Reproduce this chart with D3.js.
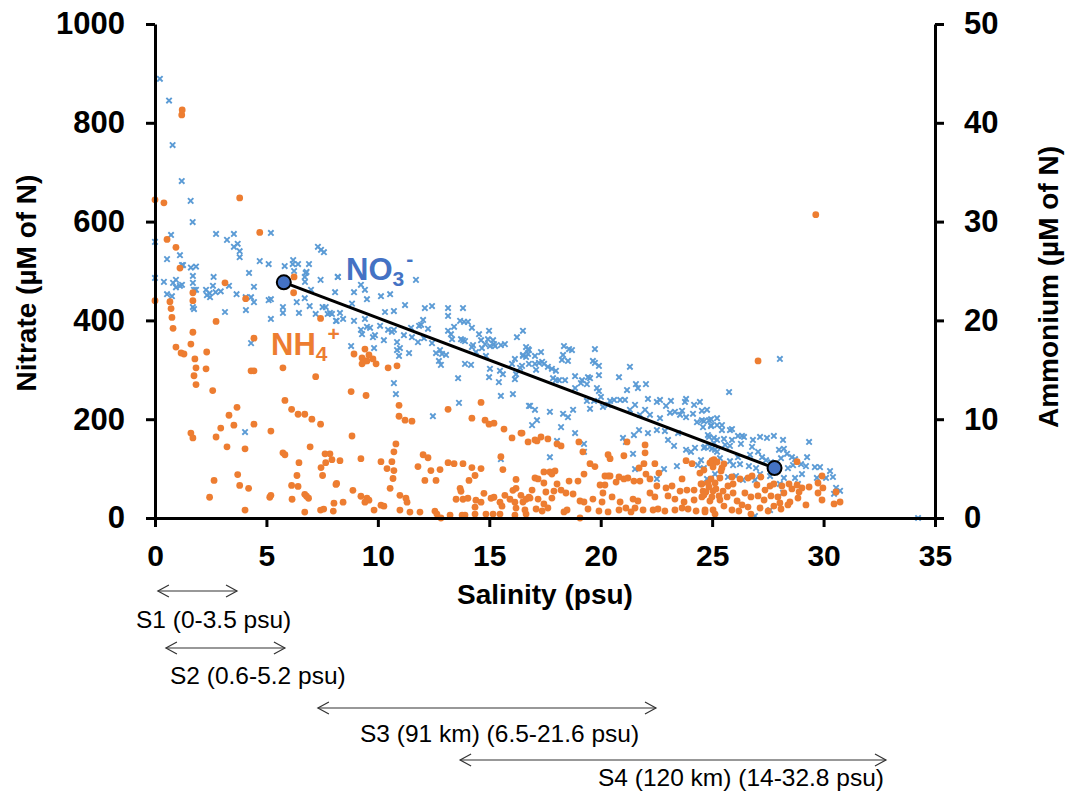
<!DOCTYPE html>
<html>
<head>
<meta charset="utf-8">
<script src="https://cdn.jsdelivr.net/npm/d3@7/dist/d3.min.js"></script>
<style>
body { margin: 0; background: #fff; }
text { font-family: "Liberation Sans", Arial, sans-serif; }
</style>
</head>
<body>
<div id="chart"></div>
<script>
// salinity (psu), nitrate (uM of N)
var nitrate = [
  [0.22,889],[0.63,845],[0.79,755],[1.2,682],[1.6,642],[1.69,599],[0.72,573],[0,559],[2.74,575],[3.54,575],
  [3.23,563],[3.54,549],[3.71,555],[3.8,540],[3.8,528],[5.2,577],[1.12,532],[0.54,524],[7.31,549],[7.45,543],
  [7.58,538],[4.7,520],[6.2,522],
  [1.21,512],[1.26,512],[1.61,507],[1.84,509],[0,486],[0.4,478],[0.94,482],[0.81,476],[0.94,467],[1.21,472],
  [1.12,470],[1.7,490],[1.7,476],[1.84,462],[1.75,462],[0.54,453],[0.76,449],[1.7,427],[1.75,423],[2.29,462],
  [2.45,455],[2.33,451],[2.47,447],[2.6,470],[2.72,457],[2.95,459],[2.63,488],[3.32,470],[3.66,453],[4.07,447],
  [4.31,447],[4.44,437],[4.22,496],[4.44,468],[5.1,514],[3.14,417],[4.08,421],[4.31,354],[4.04,174],[5.1,441],
  [5.2,443],[5.2,403],[5.74,427],[5.74,415],[5.82,510],[6.18,514],[6.42,514],[6.24,500],[6.91,514],[6.76,496],
  [6.8,498],[6.72,488],[6.73,478],[6.72,445],[6.36,437],[6.46,415],[6.94,429],[7.43,482],[7.52,427],[7.66,427],
  [7.21,413],[7.75,413],[7.85,415],[7.94,413],[8.15,399],[8.2,488],[7.0,462],
  [8.08,457],[8.93,457],[9.42,462],[9.51,443],[9.24,472],[10.14,449],[10.55,453],[11.71,482],[8.21,488],[8.3,415],
  [8.44,403],[8.12,399],[8.93,399],[8.84,434],[9.42,403],[9.24,381],[9.29,372],[9.51,387],[9.65,385],[9.87,370],
  [9.78,366],[10.1,389],[10.32,417],[10.46,381],[10.27,360],[10.72,419],[10.63,377],[10.72,381],[11.22,431],[11.17,370],
  [8.8,348],[9.83,344],[10.86,356],[10.99,344],[10.95,328],[11.4,334],[10.86,340],[10.72,273],[10.81,251],[11.49,385],
  [11.53,366],[11.8,356],[11.85,389],[12.03,401],[11.94,391],[12.07,364],[12.11,425],[12.43,429],[12.25,383],[12.43,354],
  [12.61,334],[12.79,340],[12.83,310],[13.06,330],[12.74,318],[12.88,332],[13.15,425],[13.15,409],[13.82,425],[13.15,379],
  [13.42,387],[13.28,372],[13.33,362],[13.69,399],[13.87,397],[14.04,397],[13.6,283],[13.64,233],[13.91,312],[14.18,310],
  [13.73,362],[13.82,360],[13.91,358],[14.22,385],[14.27,350],[14.54,372],[14.22,346],[14.4,336],[14.63,360],[14.67,344],
  [14.94,362],[14.99,379],[14.81,352],[15.03,348],[15.17,360],[15.21,352],[15.26,348],[15.52,350],[15.7,352],[14.85,328],
  [14.99,285],[15.03,302],[15.48,298],[15.43,275],[15.61,291],[16.15,322],[16.24,366],[16.51,379],[16.06,251],[15.52,247],
  [16.2,291],[16.15,281],[16.02,312],[16.47,308],[16.65,326],[16.51,330],[16.74,342],[12.47,206],[16.78,227],[15.52,119],
  [16.65,346],[16.78,340],[17.05,328],[16.51,328],[16.74,332],[17.32,336],[17.23,314],[17.37,316],[17.46,312],[17.05,312],
  [16.78,312],[17.1,300],[17.63,306],[17.81,302],[17.99,298],[18.26,320],[18.31,330],[18.35,348],[18.58,342],[18.71,340],
  [18.53,318],[17.99,279],[17.86,283],[18.13,279],[18.4,279],[18.85,287],[19.16,279],[19.43,285],[19.52,283],[19.65,318],
  [19.74,314],[19.74,342],[19.92,289],[18.85,263],[19.11,273],[19.38,271],[19.92,257],[19.83,263],[16.83,227],[17.05,219],
  [17.14,198],[16.92,188],[17.72,215],[18.22,184],[18.31,211],[18.53,204],[18.76,219],[18.85,172],[18.04,156],[17.72,123],
  [19.38,237],[19.52,221],[19.7,237],[20.01,245],[20.1,225],[20.33,229],[20.42,237],[20.6,239],[20.82,285],[20.87,239],
  [21.31,306],[21.58,271],[21.67,263],[22.03,271],[21.18,259],[21.09,239],[21.31,219],[21.54,229],[21.76,209],[21.99,219],
  [22.21,209],[22.12,241],[22.52,235],[22.93,227],[22.66,202],[23.11,213],[23.33,215],[23.56,209],[23.65,217],[23.78,235],
  [23.83,204],[24.14,211],[24.32,194],[24.63,196],[24.86,198],[24.95,186],[25.22,188],[19.25,150],[19.25,134],[21.0,162],
  [21.13,154],[21.45,130],[21.49,168],[21.72,178],[22.12,172],[22.52,178],[22.88,176],[23.02,158],[23.29,146],[23.47,172],
  [23.42,105],[23.83,138],[24.05,134],[24.23,142],[24.36,107],[24.59,99],[24.68,144],[24.86,164],[24.99,140],[25.08,152],
  [25.22,134],[22.84,99],[22.52,79],[21.54,99],[16.38,304],[22.66,239],[23.15,237],[23.83,241],[24.19,229],[24.45,235],
  [24.77,219],[19.92,308],
  [24.54,217],[24.54,198],[24.95,200],[25.22,202],[24.59,184],[25.44,188],[25.44,178],[25.8,178],[25.89,180],[24.95,188],
  [24.81,168],[25.08,162],[25.22,158],[25.53,160],[25.89,158],[26.16,166],[26.34,166],[26.43,164],[26.83,158],[27.15,164],
  [27.46,162],[27.77,166],[28.18,158],[29.35,154],[24.63,142],[24.9,144],[25.13,138],[25.58,148],[25.8,146],[26.29,150],
  [26.79,144],[27.06,134],[26.7,128],[26.16,123],[25.35,121],[24.5,117],[24.63,101],[25.13,113],[25.8,115],[25.94,107],
  [26.25,109],[26.65,105],[26.97,101],[27.24,123],[27.42,117],[27.64,113],[28.0,138],[28.22,140],[28.36,130],[28.09,121],
  [28.58,123],[28.72,119],[28.4,101],[28.63,107],[28.99,109],[29.26,123],[29.21,105],[29.61,103],[29.84,103],[30.29,95],
  [30.42,83],[30.56,61],[30.74,55],[30.47,49],[30.11,81],[29.7,81],[29.03,89],[28.72,81],[28.85,69],[28.22,81],
  [28.04,69],[27.6,85],[27.15,89],[26.92,77],[26.38,77],[26.07,85],[25.71,83],[25.13,89],[24.77,79],[28.18,51],
  [27.6,16],[26.92,4],[34.24,0],[28.04,322],[25.76,255]
];

// salinity (psu), ammonium (uM of N)
var ammonium = [
  [1.2,40.8],[1.22,41.3],[0,32.2],[0.4,31.9],[3.8,32.4],[4.7,28.9],[0.54,28.2],[0.94,27.4],
  [1.12,25.3],[0,22.0],[0.67,21.9],[0.72,21.2],[0.76,20.3],[0.81,19.2],[0.94,17.3],[1.7,22.8],[1.7,22.0],[1.7,18.8],
  [1.61,17.6],[1.17,16.7],[1.3,16.6],[1.79,16.1],[1.84,15.2],[1.75,14.4],[1.84,13.5],[2.32,16.8],[2.29,15.1],[2.59,12.9],
  [2.74,19.9],[3.14,23.8],[4.07,22.2],[4.44,18.2],[4.31,14.9],[4.44,14.9],[5.74,15.2],[6.24,24.4],[6.22,22.8],[7.43,20.2],
  [7.21,14.3],[5.83,11.9],[6.13,11.0],[6.42,10.5],[6.72,10.5],[7.04,10.0],[7.43,9.5],[3.68,11.2],[3.32,10.4],[3.54,9.4],
  [2.95,9.1],[2.74,8.2],[3.23,7.2],[1.61,8.6],[1.7,8.1],[4.44,9.5],[5.2,8.8],[4.04,7.0],[5.74,6.6],[5.83,6.4],
  [6.46,5.6],[6.96,7.2],[7.45,5.1],[7.63,6.5],[7.85,6.5],[7.66,5.6],[7.94,5.9],[7.52,4.3],[3.71,4.4],[3.8,3.3],
  [4.2,3.0],[2.65,3.8],[2.45,2.1],[5.15,2.1],[5.2,2.3],[6.13,3.3],[6.37,4.3],[6.42,3.2],[6.15,1.9],[6.72,2.4],
  [6.8,2.2],[6.89,2.0],[4.04,0.8],[6.72,0.6],[7.43,0.8],[7.57,0.9],[8.0,0.7],[8.15,3.5],
  [9.42,17.1],[8.93,16.6],[9.29,16.2],[9.42,15.9],[9.6,16.5],[9.78,16.1],[9.51,15.9],[9.92,15.6],[9.29,15.6],[10.46,15.2],
  [10.86,15.4],[8.8,12.8],[9.47,12.4],[10.95,11.4],[10.95,10.3],[11.22,9.9],[11.53,9.8],[13.15,11.0],[14.63,11.7],[14.22,10.1],
  [14.81,9.9],[14.99,9.5],[15.21,9.6],[15.66,9.0],[16.02,8.1],[16.42,8.6],[8.84,8.3],[10.81,7.5],[10.72,6.7],[10.63,5.7],
  [10.72,4.8],[10.68,4.0],[10.55,3.0],[10.41,5.0],[8.3,5.8],[9.24,6.0],[10.14,5.7],[11.8,5.2],[12.03,6.4],[12.25,6.1],
  [12.38,4.8],[12.79,4.9],[12.61,3.8],[12.11,3.8],[13.15,5.6],[13.42,5.5],[13.82,5.5],[14.22,5.1],[14.63,5.0],[14.09,3.8],
  [14.36,4.3],[15.52,6.2],[15.61,4.9],[16.2,3.9],[8.12,3.4],[8.03,1.5],[8.44,1.6],[8.88,2.8],[9.24,2.2],[9.51,2.0],
  [9.6,1.8],[9.42,1.6],[9.83,0.8],[10.14,1.3],[10.27,1.2],[10.99,2.3],[11.26,2.0],[11.31,1.6],[10.99,0.8],[11.44,0.6],
  [11.89,0.6],[12.56,0.7],[12.65,0.4],[12.83,0.0],[13.24,0.3],[13.51,1.9],[13.69,3.0],[13.73,2.7],[13.82,1.9],[14.04,2.0],
  [14.4,1.8],[14.63,1.6],[14.76,2.5],[15.08,2.0],[15.21,2.1],[15.48,1.6],[15.57,1.2],[15.7,2.3],[15.93,1.9],[16.06,2.8],
  [16.2,3.0],[16.15,1.6],[16.2,1.0],[16.42,2.3],[16.65,1.9],[16.78,2.1],[13.78,0.3],[13.91,0.3],[14.36,1.1],[14.36,0.4],
  [14.85,0.4],[15.17,0.4],[15.48,0.4],[16.15,0.3],[16.65,0.4],
  [16.47,8.6],[16.74,7.7],[17.05,7.9],[17.14,7.8],[17.32,8.2],[17.63,8.0],[18.04,7.5],[18.22,7.3],[19.02,7.7],[19.2,6.7],
  [19.52,5.5],[19.74,5.2],[20.33,6.4],[20.42,6.0],[21.04,6.3],[21.18,7.7],[21.99,7.4],[21.99,6.6],[21.94,5.5],[22.43,5.5],
  [23.83,5.8],[24.1,5.5],[24.99,5.8],[25.08,5.9],
  [17.45,4.66],[17.05,4.05],[17.19,3.95],[17.72,4.66],[17.95,4.76],[17.81,4.45],[19.25,4.45],[20.19,4.25],[20.33,4.25],[20.42,4.25],
  [21.22,4.05],[21.72,5.06],[22.03,4.45],[22.61,4.55],[23.65,3.95],[24.45,4.55],[24.54,3.44],[24.81,3.54],[24.95,3.95],[25.13,3.54],
  [16.92,2.83],[17.45,3.54],[18.04,3.44],[17.54,2.63],[17.9,2.73],[18.22,2.83],[18.58,3.74],[18.98,3.74],[19.97,3.34],[20.19,3.34],
  [20.69,3.64],[20.82,4.15],[21.04,3.95],[21.49,3.74],[21.76,3.74],[22.21,3.95],[22.52,3.24],[22.93,3.04],[23.2,3.24],[23.56,2.73],
  [23.87,2.83],[24.19,2.83],[24.59,2.73],[24.72,2.63],[25.04,2.73],
  [16.51,1.62],[16.83,2.02],[17.19,1.92],[17.45,1.42],[17.81,2.02],[18.44,2.53],[18.76,2.43],[19.07,1.72],[19.25,1.62],[19.65,1.92],
  [20.06,1.62],[20.1,2.53],[20.51,2.13],[20.87,1.62],[21.45,1.92],[21.67,1.72],[22.21,2.53],[22.43,2.13],[23.02,2.23],[23.33,1.92],
  [23.74,1.62],[24.19,1.82],[24.54,2.13],[24.9,1.72],[25.31,2.23],
  [16.6,0.81],[17.1,0.91],[17.37,0.71],[17.63,1.01],[18.35,0.61],[18.49,0.81],[19.07,0.0],[19.43,0.91],[19.92,0.71],[20.33,0.61],
  [20.82,0.81],[21.13,1.01],[21.36,0.61],[21.54,1.01],[21.9,0.81],[22.35,0.81],[22.57,0.91],[22.88,0.71],[23.33,0.81],[23.65,1.01],
  [23.92,0.91],[24.28,0.71],[24.68,0.61],[25.04,0.81],
  [24.9,5.57],[25.22,5.67],[25.53,5.47],[25.04,5.16],[25.44,5.06],[25.4,4.76],[24.63,4.86],[24.5,3.44],[24.86,3.14],[25.17,2.94],
  [25.49,2.73],[25.71,3.24],[25.35,4.05],[25.89,4.15],[25.94,3.44],[26.25,3.95],[26.61,4.05],[26.79,4.25],[27.19,4.15],[27.01,3.34],
  [27.6,3.24],[27.77,3.44],[28.13,3.24],[28.45,3.44],[28.81,3.34],[29.03,3.04],[29.35,3.14],[29.75,3.54],[29.93,4.25],[29.97,3.04],
  [29.75,2.53],[30.56,2.63],[29.93,1.82],[30.47,1.42],[30.74,1.62],[24.63,2.33],[24.99,2.13],[25.35,1.82],[25.67,2.13],[25.94,2.53],
  [26.12,1.72],[26.47,2.53],[26.34,1.32],[26.74,2.13],[27.06,2.23],[27.33,1.82],[27.64,2.23],[27.95,2.13],[28.04,1.52],[28.22,2.53],
  [28.49,1.62],[28.85,2.02],[29.21,1.32],[28.9,2.63],[28.58,2.94],[24.68,0.81],[25.13,0.40],[25.53,1.21],[25.89,0.81],[26.2,0.71],
  [26.61,1.11],[26.74,0.40],[27.15,1.01],[27.51,0.71],[27.77,1.21],[28.09,0.91],[28.4,1.32],[27.37,2.83],
  [27.06,15.9],[28.81,5.7],[29.65,30.7]
];

// mixing line end points (salinity, nitrate)
var trendLine = [[5.78, 477], [27.8, 101]];

var xTicks = [0, 5, 10, 15, 20, 25, 30, 35];
var nitrateTicks = [0, 200, 400, 600, 800, 1000];
var ammoniumTicks = [0, 10, 20, 30, 40, 50];

// salinity ranges of the stations (arrow start, arrow end)
var stationNames = ['S1 (0-3.5 psu)', 'S2 (0.6-5.2 psu)', 'S3 (91 km) (6.5-21.6 psu)', 'S4 (120 km) (14-32.8 psu)'];
var stationFrom = [0.13, 0.49, 7.31, 13.69];
var stationTo = [3.68, 5.83, 22.48, 32.8];

var opt = {
    width: 1066,
    height: 791,
    left: 155,
    right: 935,
    top: 24,
    bottom: 518,
    axisW: 3,
    tickLen: 9,
    nitrateColor: '#5B9BD5',
    ammoniumColor: '#ED7D31',
    labelBlue: '#4472C4',
    markerHalf: 2.7,
    dotR: 3.4,
    arrowY: [591, 648, 708, 760],
    arrowTextX: [136, 170, 360, 598],
    arrowTextY: [628, 684, 742, 786]
};

var svg = d3.select('#chart').append('svg')
    .attr('width', opt.width)
    .attr('height', opt.height)
    .style('background', '#fff');

var x = d3.scaleLinear().domain([0, 35]).range([opt.left, opt.right]);
var yN = d3.scaleLinear().domain([0, 1000]).range([opt.bottom, opt.top]);
var yA = d3.scaleLinear().domain([0, 50]).range([opt.bottom, opt.top]);

// nitrate points (x markers)
svg.append('g').selectAll('path').data(nitrate).enter().append('path')
    .attr('d', function (d) {
        var cx = x(d[0]), cy = yN(d[1]), h = opt.markerHalf;
        return 'M' + (cx - h) + ',' + (cy - h) + 'L' + (cx + h) + ',' + (cy + h) +
            'M' + (cx - h) + ',' + (cy + h) + 'L' + (cx + h) + ',' + (cy - h);
    })
    .style('stroke', opt.nitrateColor)
    .style('stroke-width', 1.9)
    .style('fill', 'none');

// ammonium points (dots)
svg.append('g').selectAll('circle').data(ammonium).enter().append('circle')
    .attr('cx', function (d) { return x(d[0]); })
    .attr('cy', function (d) { return yA(d[1]); })
    .attr('r', opt.dotR)
    .style('fill', opt.ammoniumColor);

// axes
function styleAxis(g, size) {
    g.select('.domain').style('stroke', '#000').style('stroke-width', opt.axisW);
    g.selectAll('.tick line').style('stroke', '#000').style('stroke-width', opt.axisW);
    g.selectAll('.tick text')
        .style('font-size', size + 'px')
        .style('font-weight', 'bold')
        .style('fill', '#000');
}

var gx = svg.append('g')
    .attr('transform', 'translate(0,' + opt.bottom + ')')
    .call(d3.axisBottom(x).tickValues(xTicks).tickFormat(d3.format('d'))
        .tickSize(opt.tickLen).tickSizeOuter(0).tickPadding(18));
styleAxis(gx, 30);

var gl = svg.append('g')
    .attr('transform', 'translate(' + opt.left + ',0)')
    .call(d3.axisLeft(yN).tickValues(nitrateTicks).tickFormat(d3.format('d'))
        .tickSize(opt.tickLen).tickSizeOuter(0).tickPadding(21));
styleAxis(gl, 31);

var gr = svg.append('g')
    .attr('transform', 'translate(' + opt.right + ',0)')
    .call(d3.axisRight(yA).tickValues(ammoniumTicks).tickFormat(d3.format('d'))
        .tickSize(opt.tickLen).tickSizeOuter(0).tickPadding(20));
styleAxis(gr, 31);

// axis titles
svg.append('text').text('Salinity (psu)')
    .attr('x', 545)
    .attr('y', 604)
    .attr('text-anchor', 'middle')
    .style('font-size', '28px').style('font-weight', 'bold');

svg.append('text').text('Nitrate (µM of N)')
    .attr('transform', 'translate(36,283) rotate(-90)')
    .attr('text-anchor', 'middle')
    .style('font-size', '28px').style('font-weight', 'bold');

svg.append('text').text('Ammonium (µM of N)')
    .attr('transform', 'translate(1058,287) rotate(-90)')
    .attr('text-anchor', 'middle')
    .style('font-size', '28px').style('font-weight', 'bold');

// mixing line
svg.append('line')
    .attr('x1', x(trendLine[0][0])).attr('y1', yN(trendLine[0][1]))
    .attr('x2', x(trendLine[1][0])).attr('y2', yN(trendLine[1][1]))
    .style('stroke', '#000').style('stroke-width', 3);
svg.append('g').selectAll('circle').data(trendLine).enter().append('circle')
    .attr('cx', function (d) { return x(d[0]); })
    .attr('cy', function (d) { return yN(d[1]); })
    .attr('r', 7)
    .style('fill', opt.labelBlue)
    .style('stroke', '#000')
    .style('stroke-width', 2);

// series labels
var no3 = svg.append('text').attr('x', 346).attr('y', 280)
    .style('font-size', '31px').style('font-weight', 'bold').style('fill', opt.labelBlue);
no3.append('tspan').text('NO');
no3.append('tspan').text('3').attr('dy', 6).style('font-size', '21px');
no3.append('tspan').text('-').attr('dy', -20).attr('dx', 2).style('font-size', '21px');

var nh4 = svg.append('text').attr('x', 271).attr('y', 355)
    .style('font-size', '31px').style('font-weight', 'bold').style('fill', opt.ammoniumColor);
nh4.append('tspan').text('NH');
nh4.append('tspan').text('4').attr('dy', 6).style('font-size', '21px');
nh4.append('tspan').text('+').attr('dy', -20).style('font-size', '21px');

// station ranges
function arrowHead(px, py, dir) {
    return 'M' + (px - dir * 11) + ',' + (py - 6) + 'L' + px + ',' + py + 'L' + (px - dir * 11) + ',' + (py + 6);
}
stationNames.forEach(function (name, i) {
    var x1 = x(stationFrom[i]), x2 = x(stationTo[i]), yy = opt.arrowY[i];
    var g = svg.append('g').style('stroke', '#333').style('stroke-width', 1.2).style('fill', 'none');
    g.append('line').attr('x1', x1).attr('y1', yy).attr('x2', x2).attr('y2', yy);
    g.append('path').attr('d', arrowHead(x1, yy, -1));
    g.append('path').attr('d', arrowHead(x2, yy, 1));
    svg.append('text').text(name)
        .attr('x', opt.arrowTextX[i])
        .attr('y', opt.arrowTextY[i])
        .style('font-size', '24.5px')
        .style('fill', '#000');
});
</script>
</body>
</html>
